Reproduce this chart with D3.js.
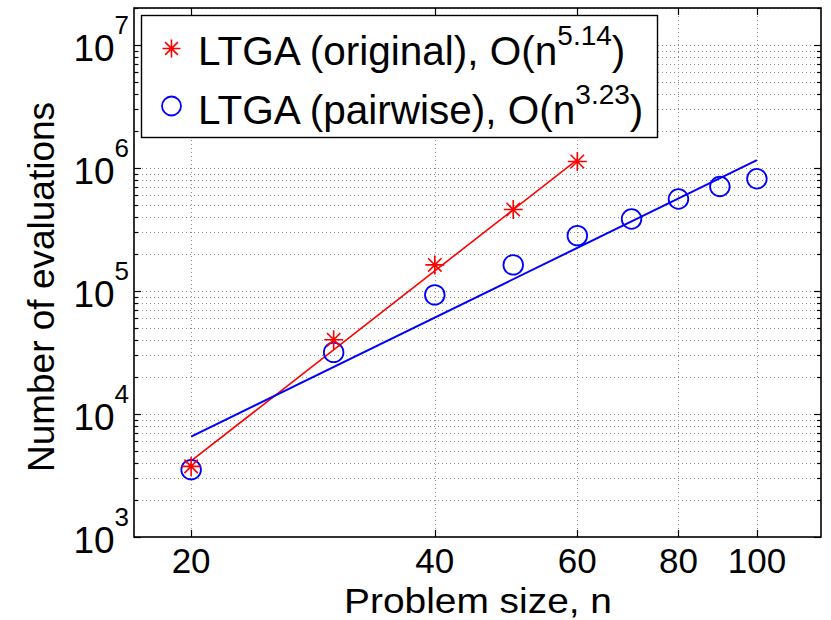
<!DOCTYPE html>
<html><head><meta charset="utf-8">
<script src="https://cdn.jsdelivr.net/npm/d3@7/dist/d3.min.js"></script>
<style>body{margin:0;background:#fff}svg{display:block}text{font-family:"Liberation Sans",Arial,Helvetica,sans-serif;fill:#000}</style>
</head><body><svg id="c" width="831" height="620"></svg>
<script>
// ---- data ----
const nOriginal = [20, 30, 40, 50, 60];
const evalsOriginal = [3750, 40200, 163000, 460000, 1130000];
const nPairwise = [20, 30, 40, 50, 60, 70, 80, 90, 100];
const evalsPairwise = [3530, 31700, 93000, 163000, 282000, 385000, 560000, 708000, 818000];
const fitOriginalN = [20, 60];
const fitOriginalY = [4150, 1170000];
const fitPairwiseN = [20, 100];
const fitPairwiseY = [6550, 1160000];
const xTickValues = [20, 40, 60, 80, 100];
const yTickExponents = [3, 4, 5, 6, 7];
const legendLabels = [["LTGA (original), O(n", "5.14", ")"], ["LTGA (pairwise), O(n", "3.23", ")"]];
const xTitle = "Problem size, n";
const yTitle = "Number of evaluations";

// ---- layout ----
const L = 134, R = 821, T = 8, B = 537;
const svg = d3.select("#c");
svg.append("rect").attr("width", 831).attr("height", 620).attr("fill", "#fff");
const x = d3.scaleLog().domain([17, 120]).range([L, R]);
const y = d3.scaleLog().domain([1e3, 2e7]).range([B, T]);

// grid
const gridStyle = s => s.attr("stroke", "#8c8c8c").attr("stroke-width", 1).attr("stroke-dasharray", "1,3");
const yMinor = y.ticks().filter(v => v > 1e3 && v <= 2e7);
svg.append("g").selectAll("line").data(yMinor).join("line")
  .attr("x1", L).attr("x2", R).attr("y1", d => Math.round(y(d)) + 0.5).attr("y2", d => Math.round(y(d)) + 0.5)
  .call(gridStyle);
svg.append("g").selectAll("line").data(xTickValues).join("line")
  .attr("x1", d => Math.round(x(d)) + 0.5).attr("x2", d => Math.round(x(d)) + 0.5).attr("y1", T).attr("y2", B)
  .call(gridStyle);

// fit lines
const line = d3.line().x(d => x(d[0])).y(d => y(d[1]));
svg.append("path").attr("d", line(d3.zip(fitOriginalN, fitOriginalY)))
  .attr("fill", "none").attr("stroke", "#ff0000").attr("stroke-width", 1.6);
svg.append("path").attr("d", line(d3.zip(fitPairwiseN, fitPairwiseY)))
  .attr("fill", "none").attr("stroke", "#0000ff").attr("stroke-width", 2);

// markers
function star(cx, cy, s) {
  const d = s * 0.7071;
  return `M${cx - s},${cy}L${cx + s},${cy}M${cx},${cy - s}L${cx},${cy + s}` +
         `M${cx - d},${cy - d}L${cx + d},${cy + d}M${cx - d},${cy + d}L${cx + d},${cy - d}`;
}
svg.append("g").selectAll("circle").data(d3.zip(nPairwise, evalsPairwise)).join("circle")
  .attr("cx", d => x(d[0])).attr("cy", d => y(d[1])).attr("r", 9.8)
  .attr("fill", "none").attr("stroke", "#0000ff").attr("stroke-width", 1.8);
svg.append("g").selectAll("path").data(d3.zip(nOriginal, evalsOriginal)).join("path")
  .attr("d", d => star(x(d[0]), y(d[1]), 9.5))
  .attr("fill", "none").attr("stroke", "#ff0000").attr("stroke-width", 1.6);

// axes box
svg.append("rect").attr("x", L).attr("y", T).attr("width", R - L).attr("height", B - T)
  .attr("fill", "none").attr("stroke", "#000").attr("stroke-width", 1.6);

// ticks
const tk = svg.append("g").attr("stroke", "#000").attr("stroke-width", 1.2);
xTickValues.forEach(v => {
  const px = Math.round(x(v)) + 0.5;
  tk.append("line").attr("x1", px).attr("x2", px).attr("y1", B).attr("y2", B - 7);
  tk.append("line").attr("x1", px).attr("x2", px).attr("y1", T).attr("y2", T + 7);
});
y.ticks().filter(v => v >= 1e3 && v <= 2e7).forEach(v => {
  const py = Math.round(y(v)) + 0.5;
  const major = Math.abs(Math.log10(v) - Math.round(Math.log10(v))) < 1e-9;
  const len = major ? 7 : 4;
  tk.append("line").attr("x1", L).attr("x2", L + len).attr("y1", py).attr("y2", py);
  tk.append("line").attr("x1", R).attr("x2", R - len).attr("y1", py).attr("y2", py);
});

// tick labels
svg.append("g").selectAll("text").data(xTickValues).join("text")
  .attr("x", d => x(d)).attr("y", 573).attr("text-anchor", "middle")
  .attr("font-size", 35).text(d => d);
const yl = svg.append("g").selectAll("text").data(yTickExponents).join("text")
  .attr("x", 129).attr("y", d => y(Math.pow(10, d)) + 16).attr("text-anchor", "end").attr("font-size", 37);
yl.append("tspan").text("10");
yl.append("tspan").attr("dy", -27).attr("font-size", 26).text(d => d);

// titles
svg.append("text").attr("x", 478).attr("y", 612.5).attr("text-anchor", "middle")
  .attr("font-size", 35).attr("textLength", 268).attr("lengthAdjust", "spacingAndGlyphs").text(xTitle);
svg.append("text").attr("transform", "translate(54,287) rotate(-90)").attr("text-anchor", "middle")
  .attr("font-size", 37).text(yTitle);

// legend
const lg = svg.append("g");
lg.append("rect").attr("x", 141.5).attr("y", 15.5).attr("width", 516).attr("height", 122)
  .attr("fill", "#fff").attr("stroke", "#000").attr("stroke-width", 1.4);
lg.append("path").attr("d", star(171.5, 48.5, 9)).attr("fill", "none").attr("stroke", "#ff0000").attr("stroke-width", 1.6);
lg.append("circle").attr("cx", 171.5).attr("cy", 106).attr("r", 9.5).attr("fill", "none").attr("stroke", "#0000ff").attr("stroke-width", 1.8);
const lt = lg.selectAll("text").data(legendLabels).join("text")
  .attr("x", 198).attr("y", (d, i) => 65 + i * 59).attr("font-size", 40.5);
lt.append("tspan").text(d => d[0]);
lt.append("tspan").attr("dy", -20).attr("font-size", 28).text(d => d[1]);
lt.append("tspan").attr("dy", 20).text(d => d[2]);
</script></body></html>
